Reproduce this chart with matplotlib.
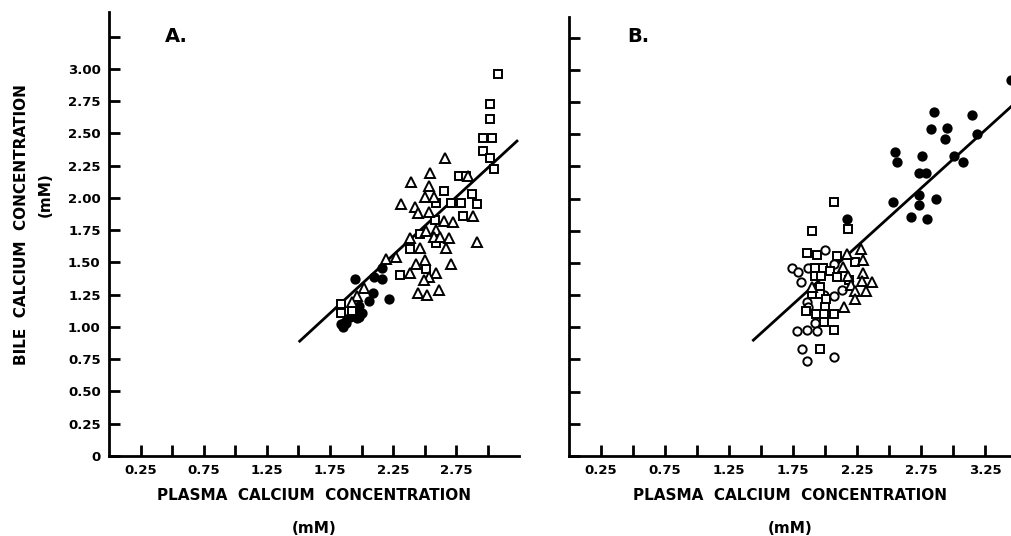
import numpy as np
import matplotlib
matplotlib.use('Agg')
import matplotlib.pyplot as plt

# Panel A data (plasma Ca, bile Ca), mM
a_sq_x = [3.08, 3.02, 3.02, 2.96, 3.03, 2.96, 3.02, 3.05, 2.77, 2.83, 2.65, 2.87, 2.59, 2.71, 2.79,
          2.91, 2.80, 2.58, 2.46, 2.59, 2.38, 2.51, 2.30, 1.84, 1.84, 1.92]
a_sq_y = [2.96, 2.73, 2.61, 2.46, 2.46, 2.36, 2.31, 2.22, 2.17, 2.17, 2.05, 2.03, 1.96, 1.96, 1.96,
          1.95, 1.86, 1.83, 1.72, 1.65, 1.60, 1.45, 1.40, 1.18, 1.11, 1.12]
a_tri_x = [2.66, 2.54, 2.39, 2.84, 2.53, 2.50, 2.57, 2.31, 2.42, 2.45, 2.53, 2.65, 2.72, 2.88, 2.59,
           2.51, 2.38, 2.57, 2.62, 2.69, 2.91, 2.46, 2.67, 2.50, 2.43, 2.71, 2.59, 2.53, 2.49, 2.38,
           2.61, 2.45, 2.52, 2.27, 2.19, 2.02, 1.96, 1.92]
a_tri_y = [2.31, 2.19, 2.12, 2.17, 2.09, 2.01, 2.01, 1.95, 1.93, 1.88, 1.89, 1.82, 1.81, 1.86, 1.75,
           1.74, 1.69, 1.70, 1.70, 1.69, 1.66, 1.61, 1.61, 1.52, 1.49, 1.49, 1.42, 1.39, 1.36, 1.42,
           1.29, 1.26, 1.25, 1.54, 1.53, 1.30, 1.24, 1.19]
a_dot_x = [1.95, 2.10, 2.16, 2.16, 2.09, 2.06, 2.22, 1.98, 2.00, 1.96, 1.91, 1.87, 1.84, 1.88, 1.98,
           1.94, 1.85]
a_dot_y = [1.37, 1.39, 1.37, 1.46, 1.26, 1.20, 1.22, 1.16, 1.11, 1.07, 1.08, 1.04, 1.02, 1.03, 1.08,
           1.12, 1.00]
a_line_x = [1.51, 3.23]
a_line_y = [0.89, 2.44]

# Panel B data
b_dot_x = [3.45, 2.85, 3.15, 2.83, 2.95, 2.94, 3.19, 2.55, 2.56, 2.76, 3.01, 3.08, 2.73, 2.79, 2.73,
           2.53, 2.87, 2.73, 2.67, 2.80, 2.17]
b_dot_y = [2.92, 2.67, 2.65, 2.54, 2.55, 2.46, 2.50, 2.36, 2.28, 2.33, 2.33, 2.28, 2.20, 2.20, 2.03,
           1.97, 2.00, 1.95, 1.86, 1.84, 1.84]
b_sq_x = [2.07, 1.90, 2.18, 1.86, 1.94, 2.09, 2.23, 1.92, 1.98, 2.04, 1.92, 1.97, 2.09, 2.19, 1.96,
          1.90, 1.96, 2.01, 2.00, 1.85, 1.93, 1.99, 2.07, 1.99, 2.07, 1.96]
b_sq_y = [1.97, 1.75, 1.76, 1.58, 1.56, 1.55, 1.51, 1.46, 1.46, 1.44, 1.40, 1.40, 1.39, 1.37, 1.31,
          1.26, 1.26, 1.22, 1.16, 1.13, 1.10, 1.10, 1.10, 1.04, 0.98, 0.83]
b_circ_x = [2.00, 1.74, 1.79, 1.81, 1.87, 2.13, 2.07, 1.86, 1.92, 1.78, 1.86, 1.94, 1.82, 1.86, 2.07,
            2.07, 1.99, 1.87]
b_circ_y = [1.60, 1.46, 1.43, 1.35, 1.46, 1.29, 1.24, 1.20, 1.03, 0.97, 0.98, 0.97, 0.83, 0.74, 0.77,
            1.49, 1.25, 1.16]
b_tri_x = [2.28, 2.17, 2.30, 2.14, 2.30, 2.18, 2.29, 2.37, 2.20, 2.23, 2.32, 2.23, 2.15, 1.90]
b_tri_y = [1.61, 1.57, 1.52, 1.47, 1.42, 1.40, 1.36, 1.35, 1.33, 1.28, 1.28, 1.22, 1.16, 1.31]
b_line_x = [1.44, 3.46]
b_line_y = [0.90, 2.72]

x_ticks_a = [0.25 * i for i in range(1, 13)]
x_labels_a = ['0.25', '', '0.75', '', '1.25', '', '1.75', '', '2.25', '', '2.75', '']
x_ticks_b = [0.25 * i for i in range(1, 14)]
x_labels_b = ['0.25', '', '0.75', '', '1.25', '', '1.75', '', '2.25', '', '2.75', '', '3.25']
y_ticks = [0.25 * i for i in range(0, 14)]
y_labels_a = ['0', '0.25', '0.50', '0.75', '1.00', '1.25', '1.50', '1.75', '2.00', '2.25', '2.50',
              '2.75', '3.00', '']

plt.rcParams['font.family'] = ['DejaVu Sans']

fig = plt.figure(figsize=(10.12, 5.36), dpi=100)
W, H = 1012, 536
axA = fig.add_axes([109 / W, (H - 456) / H, (519.5 - 109) / W, (456 - 12) / H])
axB = fig.add_axes([569 / W, (H - 456) / H, (1012 - 569) / W, (456 - 17) / H])

ms = dict(linestyle='none', color='black', mew=1.4)

def style(ax, xmax, ymax, xt, xl, yl):
    ax.set_xlim(0, xmax)
    ax.set_ylim(0, ymax)
    for s in ['top', 'right']:
        ax.spines[s].set_visible(False)
    for s in ['left', 'bottom']:
        ax.spines[s].set_linewidth(2)
    ax.set_xticks(xt)
    ax.set_xticklabels(xl, fontsize=9.5, fontweight='bold')
    ax.set_yticks(y_ticks)
    ax.set_yticklabels(yl, fontsize=9.5, fontweight='bold')
    ax.tick_params(direction='in', length=8, width=2, pad=6)
    ax.set_xlabel('PLASMA  CALCIUM  CONCENTRATION\n\n(mM)', fontsize=11, fontweight='bold',
                  labelpad=8, linespacing=1.1)

# panel A
axA.plot(a_line_x, a_line_y, color='black', lw=2)
axA.plot(a_dot_x, a_dot_y, marker='o', ms=6, mfc='black', **ms)
axA.plot(a_sq_x, a_sq_y, marker='s', ms=5.5, mfc='white', **ms)
axA.plot(a_tri_x, a_tri_y, marker='^', ms=7, mfc='white', **ms)
style(axA, 3.25, 3.44, x_ticks_a, x_labels_a, y_labels_a)

# panel B
axB.plot(b_line_x, b_line_y, color='black', lw=2)
axB.plot(b_dot_x, b_dot_y, marker='o', ms=6, mfc='black', **ms)
axB.plot(b_circ_x, b_circ_y, marker='o', ms=6, mfc='white', **ms)
axB.plot(b_sq_x, b_sq_y, marker='s', ms=5.5, mfc='white', **ms)
axB.plot(b_tri_x, b_tri_y, marker='^', ms=7, mfc='white', **ms)
style(axB, 3.46, 3.41, x_ticks_b, x_labels_b, [''] * len(y_ticks))

fig.text(22 / W, 1 - 225 / H, 'BILE  CALCIUM  CONCENTRATION', rotation=90, ha='center', va='center',
         fontsize=11, fontweight='bold')
fig.text(45 / W, 1 - 195 / H, '(mM)', rotation=90, ha='center', va='center',
         fontsize=11, fontweight='bold')
fig.text(165 / W, 1 - 36 / H, 'A.', ha='left', va='center', fontsize=14, fontweight='bold')
fig.text(627 / W, 1 - 36 / H, 'B.', ha='left', va='center', fontsize=14, fontweight='bold')

fig.savefig('out.png', dpi=100)
